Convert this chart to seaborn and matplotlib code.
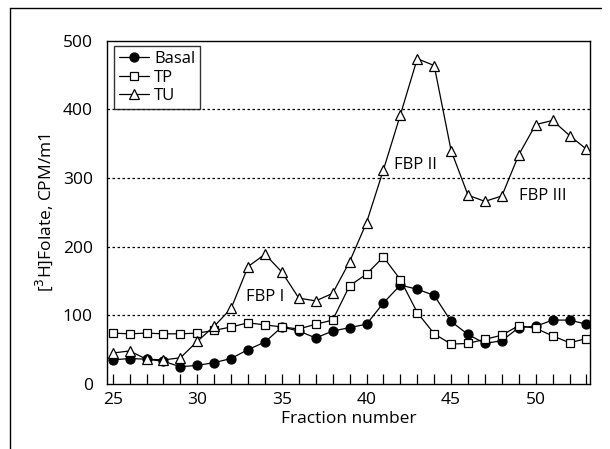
import matplotlib
matplotlib.use("Agg")
import matplotlib.pyplot as plt
import seaborn as sns
import pandas as pd
from matplotlib.ticker import MultipleLocator
from matplotlib.lines import Line2D

fractions = list(range(25, 54))
basal = [35, 37, 36, 33, 25, 27, 31, 37, 50, 61, 83, 77, 67, 77, 82, 87, 118, 144, 138, 129, 91, 72, 59, 63, 82, 84, 93, 93, 87]
tp = [74, 73, 74, 73, 73, 74, 78, 83, 89, 86, 83, 80, 87, 93, 143, 160, 185, 152, 104, 73, 58, 59, 65, 71, 85, 81, 70, 60, 66]
tu = [45, 48, 36, 35, 38, 62, 84, 110, 171, 189, 163, 125, 121, 132, 178, 235, 312, 392, 474, 464, 340, 275, 266, 274, 334, 378, 384, 362, 342]
series_names = ["Basal", "TP", "TU"]
peak_labels = ["FBP I", "FBP II", "FBP III"]
peak_x = [34.0, 42.9, 50.4]
peak_y = [127, 319, 274]

sns.set_style("white")
plt.rcParams['font.family'] = ['Open Sans', 'DejaVu Sans']
plt.rcParams['text.color'] = 'black'
plt.rcParams['axes.labelcolor'] = 'black'
plt.rcParams['xtick.color'] = 'black'
plt.rcParams['ytick.color'] = 'black'

df = pd.DataFrame({"Fraction": fractions * 3,
                   "value": basal + tp + tu,
                   "series": sum([[n] * len(fractions) for n in series_names], [])})

fig = plt.figure(figsize=(6.1, 4.49), dpi=100)
ax = fig.add_axes([0.175, 0.145, 0.792, 0.764])

styles = {
    "Basal": dict(marker="o", markerfacecolor="black", markersize=6.5),
    "TP": dict(marker="s", markerfacecolor="white", markersize=5.5),
    "TU": dict(marker="^", markerfacecolor="white", markersize=7),
}
for name in series_names:
    sub = df[df.series == name]
    sns.lineplot(data=sub, x="Fraction", y="value", ax=ax, color="black",
                 linewidth=0.9, markeredgecolor="black", markeredgewidth=0.9,
                 label=name, legend=False, **styles[name])

for yv in [100, 200, 300, 400]:
    ax.axhline(yv, color="black", linestyle=(0, (2, 2)), linewidth=0.9, zorder=0)

ax.set_xlim(24.65, 53.2)
ax.set_ylim(0, 500)
ax.xaxis.set_major_locator(MultipleLocator(5))
ax.xaxis.set_minor_locator(MultipleLocator(1))
ax.yaxis.set_major_locator(MultipleLocator(100))
ax.tick_params(axis="x", which="both", direction="in", length=7, width=0.9,
               labelsize=12.5, pad=6, bottom=True, color="black", labelcolor="black")
ax.tick_params(axis="y", which="both", length=0, labelsize=12.5, pad=10, left=True,
               labelcolor="black")
for s in ax.spines.values():
    s.set_color("black")
    s.set_linewidth(1.0)

ax.set_xlabel("Fraction number", fontsize=12.5, labelpad=2, color="black")
ax.set_ylabel("[$^3$H]Folate, CPM/m1", fontsize=12.5, labelpad=6, color="black")

for t, xv, yv in zip(peak_labels, peak_x, peak_y):
    ax.text(xv, yv, t, fontsize=12, ha="center", va="center", color="black")

handles = [Line2D([], [], color="black", linewidth=0.9, markeredgecolor="black",
                  markeredgewidth=0.9, **styles[n]) for n in series_names]
leg = ax.legend(handles, series_names, loc="upper left", bbox_to_anchor=(0.015, 0.985),
                frameon=True, fancybox=False, fontsize=12, handlelength=1.8,
                handletextpad=0.3, labelspacing=0.15, borderpad=0.3, borderaxespad=0.0)
leg.get_frame().set_edgecolor("black")
leg.get_frame().set_linewidth(1.0)
for txt in leg.get_texts():
    txt.set_color("black")

# figure border (left and top lines)
fig.add_artist(Line2D([0.017, 0.017], [0.0, 0.982], color="black", linewidth=1.0,
                      transform=fig.transFigure))
fig.add_artist(Line2D([0.017, 0.985], [0.982, 0.982], color="black", linewidth=1.0,
                      transform=fig.transFigure))

fig.savefig("out.png", dpi=100)
